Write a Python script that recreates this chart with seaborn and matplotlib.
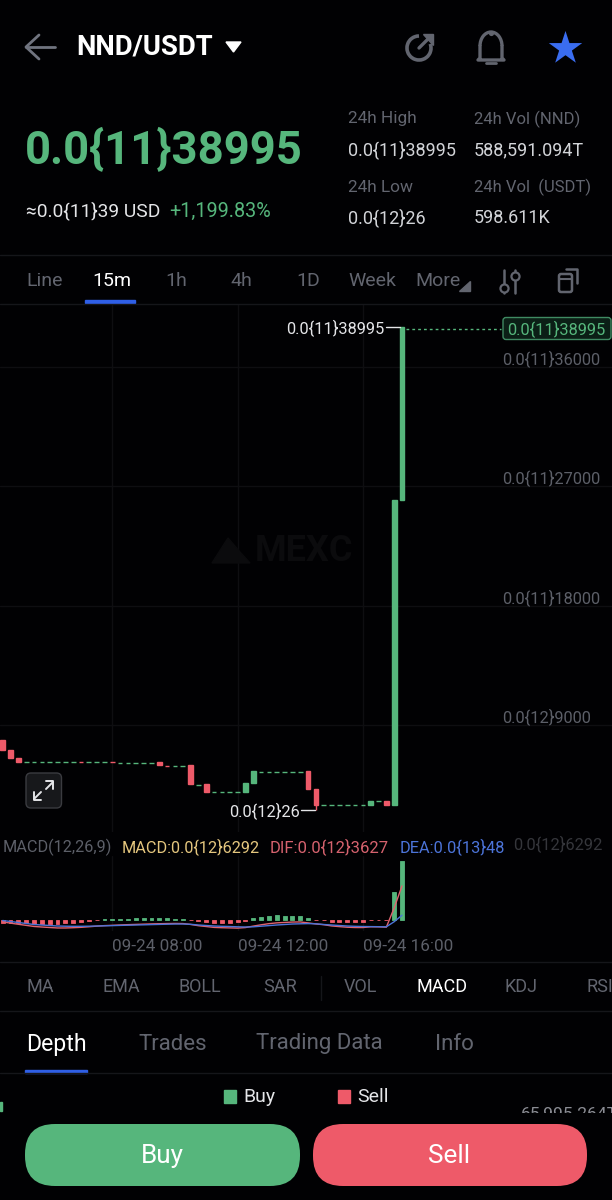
import numpy as np
import pandas as pd
import matplotlib
matplotlib.use("Agg")
import matplotlib.pyplot as plt
import seaborn as sns
from matplotlib.patches import FancyBboxPatch, Arc, Rectangle, Polygon

# candle values, price in units of 1e-16
opens = [7900, 7150, 6530,
         6230, 6230, 6230, 6230, 6230, 6230, 6230, 6230, 6230, 6230, 6230, 6230,
         6180, 6180, 6180, 6180, 6180, 6250, 5970, 5970, 5970, 5990, 4520, 4600,
         3990, 3990, 3990, 3990, 4010, 4640,
         5520, 5520, 5520, 5520, 5520, 5520, 5600, 4220,
         2990, 2990, 2990, 2990, 2990, 2990, 3030, 3310, 3330, 3000, 26000]
closes = [7150, 6530, 6270,
          6230, 6230, 6230, 6230, 6230, 6230, 6230, 6230, 6230, 6230, 6230, 6230,
          6180, 6180, 6180, 6180, 6180, 6025, 5970, 5970, 5970, 4600, 4520, 4010,
          3990, 3990, 3990, 3990, 4640, 5600,
          5520, 5520, 5520, 5520, 5520, 5520, 4220, 3030,
          2990, 2990, 2990, 2990, 2990, 2990, 3330, 3310, 3030, 26000, 38995]
directions = ["sell", "sell", "sell",
              "buy", "buy", "buy", "buy", "buy", "buy", "buy", "sell", "buy", "buy", "buy", "sell",
              "buy", "buy", "buy", "buy", "buy", "sell", "sell", "buy", "buy", "sell", "buy", "sell",
              "buy", "buy", "buy", "buy", "buy", "buy",
              "buy", "buy", "buy", "buy", "buy", "buy", "sell", "sell",
              "buy", "buy", "buy", "buy", "buy", "buy", "buy", "buy", "sell", "buy", "buy"]
wick_index = 40
wick_low = 2600
wick_top = 3030

macd = [-300, -350, -380, -400, -420, -430, -430, -420, -380, -300, -220, -120, -30,
        40, 60, 90, 120, 130, 140, 150, 150, 140, 120, 100,
        -30, -150, -220, -300, -300, -300, -280, -120,
        150, 300, 420, 460, 440, 420, 400, 150,
        -30, -40, -200, -240, -260, -260, -220, -40, -30, -30, 2975, 6292]
dif = [-236, -368, -491, -608, -726, -784, -838, -887, -888, -859, -819, -758, -692,
       -635, -604, -567, -531, -504, -478, -451, -430, -413, -402, -412,
       -509, -644, -733, -827, -859, -880, -902, -844,
       -687, -548, -424, -339, -296, -252, -240, -344,
       -455, -536, -669, -743, -807, -839, -840, -761, -767, -800, 1272, 3627]
dea = [-86, -193, -301, -408, -516, -569, -623, -677, -698, -709, -709, -698, -677,
       -655, -634, -612, -591, -569, -548, -526, -505, -483, -462, -462,
       -494, -569, -623, -677, -709, -730, -762, -784,
       -762, -698, -634, -569, -516, -462, -440, -419,
       -440, -516, -569, -623, -677, -709, -730, -741, -752, -762, -215, 480]

price_ticks = [9000, 18000, 27000, 36000]
price_labels = ["0.0{12}9000", "0.0{11}18000", "0.0{11}27000", "0.0{11}36000"]
time_ticks = [14, 30, 46]
time_labels = ["09-24 08:00", "09-24 12:00", "09-24 16:00"]
timeframes = ["Line", "15m", "1h", "4h", "1D", "Week", "More"]
indicators = ["MA", "EMA", "BOLL", "SAR", "VOL", "MACD", "KDJ", "RSI"]
sections = ["Depth", "Trades", "Trading Data", "Info"]

GREEN = "#56b67c"
RED = "#ee5a69"
BLUE = "#2f5fe6"
GREY = "#62656f"
GRID = "#0e0e11"
BG = "#010103"

sns.set_theme(style="dark")
plt.rcParams["font.family"] = ["Roboto", "DejaVu Sans"]
plt.rcParams["axes.facecolor"] = "none"

W, H = 612, 1200
XLIM = (-0.345, 77.82)


def add_axes(fig, top, bottom):
    return fig.add_axes([0, 1 - bottom / H, 1, (bottom - top) / H])


def label(ax, x, y, s, size=12.5, color=GREY, weight="normal", ha="left", **kw):
    return ax.text(x, y + 1, s, fontsize=size, color=color, fontweight=weight,
                   ha=ha, va="center", **kw)


def draw_bars(ax, df, lows, heights, width, lw):
    for name, color in [("buy", GREEN), ("sell", RED)]:
        keep = df["direction"] == name
        sub = pd.DataFrame({"i": df["i"][keep], "h": heights[keep]})
        sns.barplot(data=sub, x="i", y="h", native_scale=True, width=width,
                    color=color, saturation=1, errorbar=None, ax=ax,
                    bottom=lows[keep], edgecolor=color, linewidth=lw)


def draw_header(ui):
    # back arrow, pair name
    ui.plot([26, 55], [47, 47], color="#70747f", lw=2)
    ui.plot([39, 26, 39], [35, 47, 59], color="#70747f", lw=2)
    label(ui, 76, 46, "NND/USDT", size=19.8, color="white", weight="bold")
    ui.add_patch(Polygon([[226, 42], [241, 42], [233.5, 52]], color="white"))

    # refresh icon
    ui.add_patch(Arc((419, 48), 24, 24, theta1=-20, theta2=270, ec="#62656f", lw=2.6))
    ui.plot([419, 431], [48, 36], color="#62656f", lw=2.4)
    ui.add_patch(Polygon([[423, 34], [433, 34], [433, 45]], color="#62656f"))
    # bell
    ui.add_patch(Arc((491, 46), 22, 28, theta1=180, theta2=360, ec="#62656f", lw=2.4))
    ui.plot([480, 480, 478, 504, 502, 502], [46, 58, 60, 60, 58, 46], color="#62656f", lw=2.4)
    ui.plot([486, 496], [63, 63], color="#62656f", lw=2)
    ui.scatter([491], [33], s=14, color="#62656f", linewidths=0)
    # star
    ui.scatter([565], [48], marker="*", s=640, color="#3a6df0", linewidths=0)

    label(ui, 25, 150, "0.0{11}38995", size=32.8, color=GREEN, weight="bold")
    label(ui, 26, 210, "≈0.0{11}39 USD", size=13.8, color="#e4e5e8")
    label(ui, 169, 210, "+1,199.83%", size=14.2, color=GREEN)

    label(ui, 348, 118, "24h High", size=12.4)
    label(ui, 474, 118, "24h Vol (NND)", size=12)
    label(ui, 348, 149, "0.0{11}38995", size=13, color="#d2d4d8")
    label(ui, 474, 149, "588,591.094T", size=13, color="#d2d4d8")
    label(ui, 348, 186, "24h Low", size=12.4)
    label(ui, 474, 186, "24h Vol  (USDT)", size=12)
    label(ui, 348, 217, "0.0{12}26", size=13, color="#d2d4d8")
    label(ui, 474, 217, "598.611K", size=13, color="#d2d4d8")
    ui.plot([0, W], [255, 255], color="#15161a", lw=1)


def draw_tabs(ui):
    tab_x = [26, 92, 165, 230, 296, 348, 415]
    for x, s in zip(tab_x, timeframes):
        label(ui, x, 280, s, size=14, color="white" if s == "15m" else GREY)
    ui.add_patch(Polygon([[459, 291], [470, 291], [470, 281]], color=GREY))
    ui.add_patch(Rectangle((85, 300), 50, 3, color=BLUE))
    ui.plot([0, W], [303.5, 303.5], color="#15161a", lw=1)

    # adjust icon
    for x, cy in [(504, 288), (515, 276)]:
        ui.plot([x, x], [270, 293], color="#62656f", lw=1.8)
        ui.scatter([x], [cy], s=34, facecolor=BG, edgecolor="#62656f", linewidths=1.6, zorder=3)
    # rotate icon
    ui.add_patch(FancyBboxPatch((559, 274), 13, 18, boxstyle="round,pad=0,rounding_size=2",
                                fc="none", ec="#62656f", lw=1.8))
    ui.plot([566, 577, 577], [269, 269, 283], color="#62656f", lw=1.8)
    ui.plot([559, 572], [279, 279], color="#62656f", lw=1.5)


def draw_footer(ui):
    ui.plot([0, W], [962, 962], color="#15161a", lw=1)
    ind_x = [26, 102, 179, 263, 344, 416, 505, 587]
    for x, s in zip(ind_x, indicators):
        label(ui, x, 986, s, size=13, color="white" if s == "MACD" else GREY)
    ui.plot([321, 321], [976, 1000], color="#15161a", lw=1)
    ui.plot([0, W], [1011, 1011], color="#15161a", lw=1)

    sec_x = [26, 138, 256, 435]
    for x, s in zip(sec_x, sections):
        label(ui, x, 1043, s, size=16.6 if s == "Depth" else 16,
              color="white" if s == "Depth" else GREY)
    ui.add_patch(Rectangle((25, 1070), 62, 3, color=BLUE))
    ui.plot([0, W], [1073, 1073], color="#15161a", lw=1)

    ui.add_patch(Rectangle((224, 1090), 12, 12.5, color=GREEN))
    label(ui, 243, 1096, "Buy", size=14, color="#e4e5e8")
    ui.add_patch(Rectangle((338, 1090), 12, 12.5, color=RED))
    label(ui, 357, 1096, "Sell", size=14, color="#e4e5e8")
    ui.add_patch(Rectangle((0, 1102), 1.5, 9, color=GREEN))

    cut = label(ui, 521, 1113, "65,995.264T", size=12.6, color="#8a8c93")
    cut.set_clip_on(True)
    cut.set_clip_path(Rectangle((0, 1105), W, 8, transform=ui.transData))

    ui.add_patch(FancyBboxPatch((25, 1124), 275, 62, boxstyle="round,pad=0,rounding_size=30",
                                fc=GREEN, ec="none"))
    ui.add_patch(FancyBboxPatch((313, 1124), 274, 62, boxstyle="round,pad=0,rounding_size=30",
                                fc=RED, ec="none"))
    label(ui, 162, 1155, "Buy", size=18.8, color="white", ha="center")
    label(ui, 449, 1155, "Sell", size=18.8, color="white", ha="center")


def draw_price(fig):
    ax = add_axes(fig, 304, 832)
    df = pd.DataFrame({"i": np.arange(len(opens)), "open": opens, "close": closes,
                       "direction": directions})
    lows = df[["open", "close"]].min(axis=1)
    heights = df[["open", "close"]].max(axis=1) - lows
    draw_bars(ax, df, lows, heights, 0.6, 1.0)
    ax.vlines(wick_index, wick_low, wick_top, color=RED, lw=1)

    ax.set_xlim(*XLIM)
    ax.set_ylim(979, 40743)
    ax.set_xticks(time_ticks)
    ax.set_xticklabels([])
    ax.set_yticks(price_ticks)
    ax.set_yticklabels(price_labels, ha="left", va="bottom", fontsize=11.8, color="#5c5f68")
    ax.yaxis.tick_right()
    ax.tick_params(axis="y", pad=-79.2, length=0)
    ax.tick_params(axis="x", length=0)
    ax.grid(True, color=GRID, lw=1)
    ax.set_axisbelow(True)
    ax.set_xlabel("")
    ax.set_ylabel("")
    sns.despine(ax=ax, left=True, bottom=True)
    return ax


def draw_macd(fig):
    ax = add_axes(fig, 856, 931)
    df = pd.DataFrame({"i": np.arange(len(macd)), "macd": macd, "dif": dif, "dea": dea})
    df["direction"] = np.where(df["macd"] > 0, "buy", "sell")
    draw_bars(ax, df, pd.Series(0, index=df.index), df["macd"], 0.5, 0.6)
    sns.lineplot(data=df, x="i", y="dif", color="#e0636f", lw=1, ax=ax)
    sns.lineplot(data=df, x="i", y="dea", color="#4c74d9", lw=1, ax=ax)

    ax.set_xlim(*XLIM)
    ax.set_ylim(-1213, 6843)
    ax.set_xticks(time_ticks)
    ax.set_xticklabels(time_labels, ha="left", fontsize=12.3, color="#5c5f68")
    ax.set_yticks([])
    ax.tick_params(axis="x", length=0, pad=6)
    ax.grid(True, axis="x", color=GRID, lw=1)
    ax.set_axisbelow(True)
    ax.set_xlabel("")
    ax.set_ylabel("")
    sns.despine(ax=ax, left=True, bottom=True)
    return ax


def draw_overlays(ui):
    # watermark
    label(ui, 255, 550, "MEXC", size=26, color="#0b0b0d", weight="bold")
    ui.add_patch(Polygon([[212, 563], [228, 538], [240, 552], [250, 563]], color="#0b0b0d"))

    # high marker and last price box
    label(ui, 286, 327, "0.0{11}38995", size=11.8, color="#e4e5e8")
    ui.plot([386, 400], [327, 327], color="#e4e5e8", lw=1)
    ui.plot([406, 501], [328.5, 328.5], color=GREEN, lw=1, ls=(0, (2, 2.2)))
    ui.add_patch(FancyBboxPatch((503, 317.5), 108, 22, boxstyle="round,pad=0,rounding_size=3",
                                fc="#0b1f16", ec="#3f8a62", lw=1))
    label(ui, 507, 328, "0.0{11}38995", size=11.8, color=GREEN)

    # low marker
    label(ui, 229, 810, "0.0{12}26", size=11.8, color="#e4e5e8")
    ui.plot([301, 315], [810, 810], color="#e4e5e8", lw=1)

    # fullscreen button
    ui.add_patch(FancyBboxPatch((26, 773), 35.5, 35, boxstyle="round,pad=0,rounding_size=5",
                                fc="#17181b", ec="#3a3b40", lw=1))
    ui.plot([34, 41], [799, 792], color="#e4e5e8", lw=1.4)
    ui.plot([34, 34, 41], [792, 800, 800], color="#e4e5e8", lw=1.4)
    ui.plot([46, 53], [789, 782], color="#e4e5e8", lw=1.4)
    ui.plot([46, 53, 53], [781, 781, 789], color="#e4e5e8", lw=1.4)

    # macd legend
    label(ui, 3, 846, "MACD(12,26,9)", size=11.7, color="#5c5f68")
    label(ui, 122, 846, "MACD:0.0{12}6292", size=11.7, color="#e4c67e")
    label(ui, 270, 846, "DIF:0.0{12}3627", size=12, color="#d5626e")
    label(ui, 400, 846, "DEA:0.0{13}48", size=11.8, color="#4c74d9")
    label(ui, 513, 843, "0.0{12}6292", size=11.9, color="#35363b")


def main():
    fig = plt.figure(figsize=(W / 100, H / 100), dpi=100, facecolor=BG)
    ui = fig.add_axes([0, 0, 1, 1], zorder=3)
    ui.set_xlim(0, W)
    ui.set_ylim(H, 0)
    ui.axis("off")

    draw_price(fig)
    draw_macd(fig)
    draw_header(ui)
    draw_tabs(ui)
    draw_overlays(ui)
    draw_footer(ui)

    fig.savefig("out.png", dpi=100, facecolor=BG)


if __name__ == "__main__":
    main()
